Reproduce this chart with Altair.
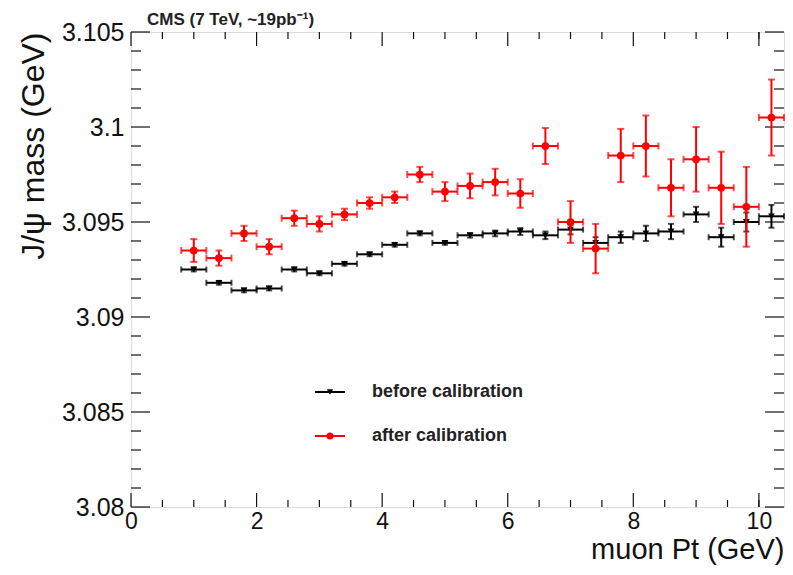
import altair as alt
import pandas as pd

# ---------------- data ----------------
pt = [1.0, 1.4, 1.8, 2.2, 2.6, 3.0, 3.4, 3.8, 4.2, 4.6, 5.0, 5.4,
      5.8, 6.2, 6.6, 7.0, 7.4, 7.8, 8.2, 8.6, 9.0, 9.4, 9.8, 10.2]
bin_half = 0.2

before = [3.0925, 3.0918, 3.0914, 3.0915, 3.0925, 3.0923, 3.0928, 3.0933,
          3.0938, 3.0944, 3.0939, 3.0943, 3.0944, 3.0945, 3.0943, 3.0946,
          3.0939, 3.0942, 3.0944, 3.0945, 3.0954, 3.0942, 3.0950, 3.0953]
before_err = [0.0001, 0.0001, 0.0001, 0.0001, 0.0001, 0.0001, 0.0001, 0.0001,
              0.0001, 0.0001, 0.0001, 0.00012, 0.00015, 0.00018, 0.0002, 0.00025,
              0.0003, 0.0003, 0.0004, 0.0004, 0.0004, 0.0005, 0.0005, 0.0006]

after = [3.0935, 3.0931, 3.0944, 3.0937, 3.0952, 3.0949, 3.0954, 3.0960,
         3.0963, 3.0975, 3.0966, 3.0969, 3.0971, 3.0965, 3.0990, 3.0950,
         3.0936, 3.0985, 3.0990, 3.0968, 3.0983, 3.0968, 3.0958, 3.1005]
after_err = [0.0006, 0.0004, 0.0004, 0.0004, 0.0004, 0.0004, 0.0003, 0.0003,
             0.0003, 0.0004, 0.0005, 0.00065, 0.0007, 0.00075, 0.00095, 0.0011,
             0.0013, 0.0014, 0.0016, 0.0015, 0.0017, 0.0019, 0.0021, 0.0020]

x_major = [0, 2, 4, 6, 8, 10]
x_minor = [0.5, 1, 1.5, 2.5, 3, 3.5, 4.5, 5, 5.5, 6.5, 7, 7.5, 8.5, 9, 9.5, 10]
y_major = [3.08, 3.085, 3.09, 3.095, 3.1, 3.105]
y_minor = [3.081, 3.082, 3.083, 3.084, 3.086, 3.087, 3.088, 3.089,
           3.091, 3.092, 3.093, 3.094, 3.096, 3.097, 3.098, 3.099,
           3.101, 3.102, 3.103, 3.104]

series_names = ["before calibration", "after calibration"]
title_text = "CMS (7 TeV, ~19pb\u207b\u00b9)"
x_title = "muon Pt (GeV)"
y_title = "J/\u03c8 mass (GeV)"

# ---------------- layout ----------------
W, H = 653, 475
FONT = "Liberation Sans"

xscale = alt.Scale(domain=[0, 10.4], nice=False, zero=False)
yscale = alt.Scale(domain=[3.08, 3.105], nice=False, zero=False)

xaxis = alt.Axis(values=x_major, ticks=False, domain=False, grid=False,
                 labelFontSize=23, labelFont=FONT, labelColor="#111",
                 labelPadding=3, labelFlush=False,
                 titleFontSize=29, titleFont=FONT, titleFontWeight="normal",
                 titleColor="#111", titleAnchor="end", titleAlign="right",
                 titleX=W, titleY=51, titleBaseline="alphabetic")
yaxis = alt.Axis(values=y_major, format="~g", ticks=False, domain=False, grid=False,
                 labelFontSize=25, labelFont=FONT, labelColor="#111",
                 labelPadding=7, labelFlush=False,
                 titleFontSize=32, titleFont=FONT, titleFontWeight="normal",
                 titleColor="#111", titleAngle=-90, titleAlign="right",
                 titleX=-88, titleY=0, titleBaseline="alphabetic")


def X(field):
    return alt.X(field, type="quantitative", scale=xscale, axis=xaxis, title=x_title)


def Y(field):
    return alt.Y(field, type="quantitative", scale=yscale, axis=yaxis, title=y_title)


def make_df(vals, errs):
    return pd.DataFrame({
        "pt": pt,
        "lo": [p - bin_half for p in pt],
        "hi": [p + bin_half for p in pt],
        "m": vals,
        "mlo": [v - e for v, e in zip(vals, errs)],
        "mhi": [v + e for v, e in zip(vals, errs)],
    })


def series_layers(df, color, shape, size, width, cap):
    base = alt.Chart(df)
    hbar = base.mark_rule(color=color, strokeWidth=width).encode(
        x=X("lo"), x2="hi", y=Y("m"))
    vbar = base.mark_rule(color=color, strokeWidth=width).encode(
        x=X("pt"), y=Y("mlo"), y2="mhi")
    cap_l = base.mark_tick(color=color, orient="vertical", size=cap, thickness=width).encode(
        x=X("lo"), y=Y("m"))
    cap_r = base.mark_tick(color=color, orient="vertical", size=cap, thickness=width).encode(
        x=X("hi"), y=Y("m"))
    cap_b = base.mark_tick(color=color, orient="horizontal", size=cap, thickness=width).encode(
        x=X("pt"), y=Y("mlo"))
    cap_t = base.mark_tick(color=color, orient="horizontal", size=cap, thickness=width).encode(
        x=X("pt"), y=Y("mhi"))
    pts = base.mark_point(shape=shape, filled=True, color=color, size=size, opacity=1).encode(
        x=X("pt"), y=Y("m"))
    return [hbar, vbar, cap_l, cap_r, cap_b, cap_t, pts]


df_before = make_df(before, before_err)
df_after = make_df(after, after_err)


def xticks(vals, y1, y2):
    return alt.Chart(pd.DataFrame({"v": vals})).mark_rule(color="#111", strokeWidth=1.2).encode(
        x=X("v"), y=alt.value(y1), y2=alt.value(y2))


def yticks(vals, x1, x2):
    return alt.Chart(pd.DataFrame({"v": vals})).mark_rule(color="#111", strokeWidth=1.2).encode(
        y=Y("v"), x=alt.value(x1), x2=alt.value(x2))


tick_layers = [
    xticks(x_major, H, H - 14), xticks(x_minor, H, H - 7),
    xticks(x_major, 0, 14), xticks(x_minor, 0, 7),
    yticks(y_major, 0, 19), yticks(y_minor, 0, 10),
    yticks(y_major, W, W - 19), yticks(y_minor, W, W - 10),
]

# legend (drawn manually, ROOT style)
one = pd.DataFrame({"a": [0]})


def legend_entry(label, color, shape, size, ypix):
    line = alt.Chart(one).mark_rule(color=color, strokeWidth=2).encode(
        x=alt.value(184), x2=alt.value(214), y=alt.value(ypix))
    mk = alt.Chart(one).mark_point(shape=shape, filled=True, color=color, size=size, opacity=1).encode(
        x=alt.value(199), y=alt.value(ypix))
    txt = alt.Chart(one).mark_text(text=label, align="left", baseline="middle", font=FONT,
                                   fontSize=18, fontWeight="bold", color="#222").encode(
        x=alt.value(241), y=alt.value(ypix))
    return [line, mk, txt]


legend_layers = (legend_entry(series_names[0], "#000", "triangle-down", 40, 360)
                 + legend_entry(series_names[1], "#ff0000", "circle", 50, 404))

title = alt.Chart(one).mark_text(text=title_text, align="left", baseline="alphabetic", font=FONT,
                                 fontSize=17, fontWeight="bold", color="#222").encode(
    x=alt.value(16), y=alt.value(-7))

layers = (tick_layers
          + series_layers(df_before, "#000", "triangle-down", 45, 2, 6)
          + series_layers(df_after, "#ff0000", "circle", 60, 2, 7)
          + legend_layers + [title])

chart = alt.layer(*layers).properties(
    width=W, height=H,
    autosize=alt.AutoSizeParams(type="none"),
    padding={"left": 123, "top": 24, "right": 1, "bottom": 59},
).configure_view(stroke="#111", strokeWidth=1.2).configure(background="white")

chart.save("out.html", embed_options={"renderer": "svg", "actions": False})
